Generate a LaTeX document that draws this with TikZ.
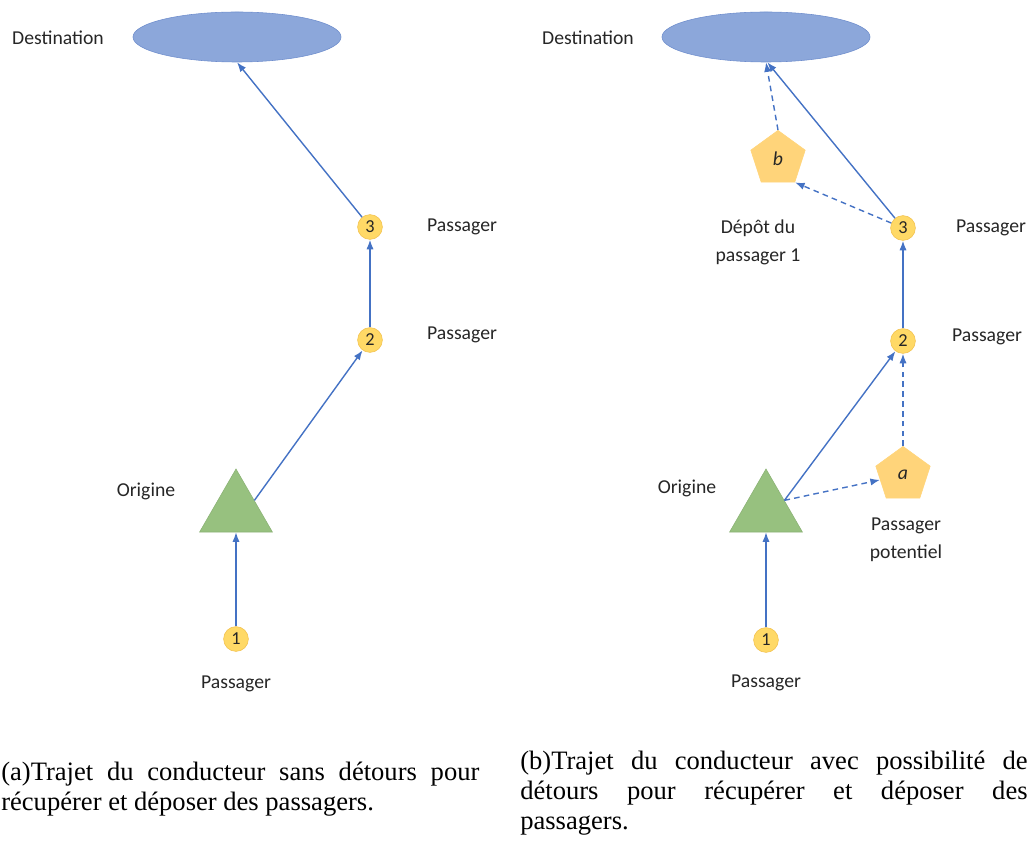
\documentclass[tikz,border=0pt]{standalone}
\usepackage{fontspec}
\setmainfont{Carlito}
\newfontfamily\captionfont{Liberation Serif}
\usepackage{tikz}
\usetikzlibrary{shapes.geometric,arrows.meta,calc}
\definecolor{routeblue}{HTML}{4472C4}
\definecolor{destfill}{HTML}{8CA7DA}
\definecolor{destline}{HTML}{6F8ECD}
\definecolor{origfill}{HTML}{97C17F}
\definecolor{paxfill}{HTML}{FFD966}
\definecolor{paxline}{HTML}{F2C14E}
\definecolor{depotfill}{HTML}{FFD47A}
\definecolor{labeltext}{HTML}{262626}

\tikzset{
    destination/.style={ellipse, draw=destline, fill=destfill,
        minimum width=5.2cm, minimum height=1.25cm, inner sep=0pt},
    origine/.style={regular polygon, regular polygon sides=3, fill=origfill,
        draw=origfill!92!black, minimum size=2.1cm, inner sep=0pt},
    passager/.style={circle, fill=paxfill, draw=paxline, minimum size=0.62cm,
        inner sep=0pt, text=labeltext, font=\fontsize{13}{13}\selectfont},
    depot/.style={regular polygon, regular polygon sides=5, fill=depotfill,
        draw=depotfill, minimum size=1.43cm, inner sep=0pt, text=labeltext,
        font=\fontsize{14}{14}\selectfont\itshape},
    lbl/.style={text=labeltext, align=center, font=\fontsize{14}{20}\selectfont},
    trajet/.style={-{Latex[length=2.4mm,width=1.8mm]}, routeblue, line width=1pt},
    detour/.style={trajet, dash pattern=on 4pt off 3pt},
    legende/.style={inner sep=0pt, align=justify, anchor=north west,
        font=\captionfont\fontsize{18.9}{21.3}\selectfont}
}

\begin{document}
\begin{tikzpicture}[x=0.025cm, y=-0.025cm]
        \useasboundingbox (0,0) rectangle (1034,845);

        % (a) trajet direct
        \node[destination] (d1) at (237,37) {};
        \node[lbl] (d1lbl) at (58,38) {Destination};
        \node[origine] (o1) at (236,511) {};
        \node[lbl] (o1lbl) at (146,491) {Origine};
        \node[passager] (p1) at (236,639) {1};
        \node[passager] (p2) at (370,340) {2};
        \node[passager] (p3) at (370,227) {3};
        \node[lbl] (p1lbl) at (236,684) {Passager};
        \node[lbl] (p2lbl) at (462,335) {Passager};
        \node[lbl] (p3lbl) at (462,227) {Passager};

        \draw[trajet] (p1) -- (o1.side 2);
        \draw[trajet] (o1.side 3) -- (p2);
        \draw[trajet] (p2) -- (p3);
        \draw[trajet] (p3) -- (d1.south);

        % (b) trajet avec detours
        \node[destination] (d2) at (766,37) {};
        \node[lbl] (d2lbl) at (588,38) {Destination};
        \node[origine] (o2) at (766,511) {};
        \node[lbl] (o2lbl) at (687,488) {Origine};
        \node[passager] (q1) at (766,640) {1};
        \node[passager] (q2) at (903,341) {2};
        \node[passager] (q3) at (903,228) {3};
        \node[lbl] (q1lbl) at (766,683) {Passager};
        \node[lbl] (q2lbl) at (987,337) {Passager};
        \node[lbl] (q3lbl) at (991,228) {Passager};
        \node[depot] (pa) at (903,475) {a};
        \node[lbl] (palbl) at (906,540) {Passager\\potentiel};
        \node[depot] (pb) at (778,159) {b};
        \node[lbl] (pblbl) at (758,242) {Dépôt du\\passager 1};

        \draw[trajet] (q1) -- (o2.side 2);
        \draw[trajet] (o2.side 3) -- (q2);
        \draw[detour] (o2.side 3) -- (pa);
        \draw[detour] (pa.corner 1) -- (q2);
        \draw[trajet] (q2) -- (q3);
        \draw[trajet] (q3) -- (d2.-87);
        \draw[detour] (q3) -- (pb.corner 4);
        \draw[detour] (pb.corner 1) -- (d2.south);

        % legendes
        \node[legende, text width=11.95cm] (capa) at (1,762)
            {\noindent(a)Trajet du conducteur sans détours pour\linebreak
             récupérer et déposer des passagers.};
        \node[legende, text width=12.68cm] (capb) at (520,751)
            {\noindent(b)Trajet du conducteur avec possibilité de\linebreak
             détours pour récupérer et déposer des\linebreak passagers.};
\end{tikzpicture}
\end{document}
